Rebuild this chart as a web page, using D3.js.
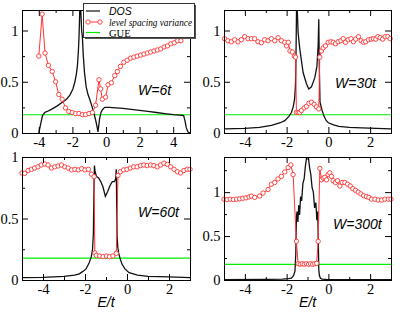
<!DOCTYPE html>
<html>
<head>
<meta charset="utf-8">
<script src="https://cdn.jsdelivr.net/npm/d3@7"></script>
<style>
body{margin:0;background:#fff;}
svg{display:block;}
</style>
</head>
<body>
<div id="chart"></div>
<script>
// --- data ---
var gue = 0.178;
var legendLabels = ["DOS", "level spacing variance", "GUE"];
var panelLabels = ["W=6t", "W=30t", "W=60t", "W=300t"];
var xTicksWide = [-4, -2, 0, 2, 4];
var xMinorWide = [-3, -1, 1, 3];
var xTicks = [-4, -2, 0, 2];
var xMinor = [-3, -1, 1];
var yTicks = [0, 0.5, 1];
var yMinor = [0.25, 0.75];
var yMinorTall = [0.25, 0.75, 1.25];

// W = 6t
var dos6X = [-4.0, -3.9, -3.78, -3.65, -3.5, -3.2, -2.9, -2.6, -2.35, -2.15, -1.97, -1.85, -1.76, -1.7, -1.65, -1.61, -1.58, -1.55, -1.52, -1.49, -1.45, -1.41, -1.35, -1.28, -1.18, -1.08, -0.95, -0.8, -0.68, -0.58, -0.52, -0.48, -0.44, -0.38, -0.3, -0.2, -0.08, 0.2, 0.6, 1.0, 1.5, 2.0, 2.5, 3.0, 3.5, 4.0, 4.4, 4.62, 4.7, 4.78, 4.88, 5.0];
var dos6Y = [0.0, 0.08, 0.17, 0.2, 0.21, 0.235, 0.265, 0.3, 0.33, 0.37, 0.43, 0.5, 0.58, 0.66, 0.78, 0.92, 1.08, 1.3, 1.3, 1.15, 1.0, 0.95, 0.75, 0.59, 0.45, 0.38, 0.32, 0.24, 0.17, 0.1, 0.05, 0.01, 0.06, 0.14, 0.2, 0.23, 0.25, 0.25, 0.245, 0.24, 0.23, 0.22, 0.21, 0.2, 0.19, 0.18, 0.175, 0.17, 0.12, 0.05, 0.01, 0.0];
var lsv6X = [-4.0, -3.8, -3.63, -3.43, -3.2, -3.0, -2.81, -2.61, -2.41, -2.21, -2.01, -1.81, -1.61, -1.41, -1.21, -1.01, -0.81, -0.62, -0.42, -0.32, -0.22, -0.02, 0.12, 0.32, 0.52, 0.68, 0.86, 1.06, 1.26, 1.46, 1.66, 1.86, 2.06, 2.26, 2.46, 2.66, 2.86, 3.06, 3.26, 3.46, 3.66, 3.86, 4.06, 4.26, 4.46];
var lsv6Y = [0.75, 1.16, 0.78, 0.66, 0.6, 0.5, 0.376, 0.33, 0.245, 0.21, 0.2, 0.19, 0.19, 0.18, 0.18, 0.19, 0.2, 0.27, 0.52, 0.43, 0.33, 0.35, 0.47, 0.49, 0.56, 0.6, 0.65, 0.69, 0.71, 0.73, 0.74, 0.75, 0.76, 0.77, 0.78, 0.79, 0.8, 0.81, 0.82, 0.84, 0.85, 0.87, 0.88, 0.9, 0.9];

// W = 30t
var dos30X = [-5.0, -4.0, -3.3, -2.73, -2.3, -2.09, -1.9, -1.77, -1.68, -1.62, -1.58, -1.56, -1.54, -1.52, -1.5, -1.45, -1.37, -1.21, -1.05, -0.94, -0.81, -0.65, -0.55, -0.49, -0.46, -0.43, -0.4, -0.3, -0.2, -0.1, 0.0, 0.25, 0.5, 1.0, 1.6, 2.3, 3.0];
var dos30Y = [0.04, 0.045, 0.055, 0.075, 0.1, 0.12, 0.16, 0.2, 0.26, 0.33, 0.45, 0.62, 0.95, 1.3, 1.25, 0.98, 0.82, 0.59, 0.48, 0.43, 0.45, 0.54, 0.65, 0.85, 1.11, 0.6, 0.3, 0.22, 0.16, 0.12, 0.1, 0.08, 0.065, 0.055, 0.05, 0.045, 0.04];
var lsv30X = [-4.97, -4.81, -4.65, -4.49, -4.33, -4.17, -4.01, -3.85, -3.69, -3.53, -3.37, -3.21, -3.05, -2.89, -2.73, -2.57, -2.41, -2.25, -2.09, -2.0, -1.92, -1.84, -1.73, -1.63, -1.57, -1.53, -1.45, -1.38, -1.29, -1.16, -1.05, -0.94, -0.81, -0.68, -0.57, -0.46, -0.41, -0.33, -0.25, -0.14, -0.01, 0.12, 0.23, 0.34, 0.47, 0.6, 0.71, 0.82, 0.95, 1.08, 1.2, 1.31, 1.44, 1.57, 1.68, 1.79, 1.92, 2.05, 2.16, 2.27, 2.37, 2.48, 2.6, 2.72, 2.85, 2.96];
var lsv30Y = [0.92, 0.9, 0.89, 0.91, 0.89, 0.91, 0.94, 0.92, 0.92, 0.92, 0.89, 0.88, 0.91, 0.9, 0.92, 0.9, 0.93, 0.9, 0.885, 0.85, 0.885, 0.8, 0.79, 0.75, 0.74, 0.2, 0.2, 0.2, 0.22, 0.245, 0.26, 0.29, 0.3, 0.28, 0.255, 0.235, 0.74, 0.8, 0.83, 0.85, 0.885, 0.89, 0.885, 0.87, 0.89, 0.9, 0.92, 0.885, 0.91, 0.92, 0.89, 0.916, 0.94, 0.9, 0.885, 0.89, 0.91, 0.916, 0.92, 0.916, 0.94, 0.93, 0.916, 0.94, 0.94, 0.92];

// W = 60t
var dos60X = [-5.0, -4.0, -3.0, -2.5, -2.27, -2.1, -1.95, -1.8, -1.7, -1.64, -1.6, -1.57, -1.55, -1.52, -1.45, -1.35, -1.25, -1.15, -1.03, -0.92, -0.8, -0.7, -0.6, -0.54, -0.51, -0.49, -0.47, -0.44, -0.4, -0.32, -0.24, -0.1, 0.1, 0.5, 1.0, 2.0, 3.0];
var dos60Y = [0.02, 0.022, 0.03, 0.04, 0.05, 0.07, 0.09, 0.14, 0.19, 0.25, 0.38, 0.78, 0.93, 0.88, 0.84, 0.83, 0.8, 0.76, 0.68, 0.72, 0.77, 0.8, 0.8, 0.82, 0.9, 0.6, 0.35, 0.27, 0.22, 0.17, 0.13, 0.09, 0.06, 0.04, 0.03, 0.025, 0.02];
var lsv60X = [-5.0, -4.87, -4.71, -4.55, -4.4, -4.24, -4.08, -3.92, -3.76, -3.6, -3.44, -3.28, -3.12, -2.96, -2.8, -2.64, -2.48, -2.32, -2.16, -2.0, -1.84, -1.69, -1.57, -1.53, -1.46, -1.3, -1.14, -0.98, -0.83, -0.67, -0.51, -0.43, -0.32, -0.16, 0.0, 0.16, 0.32, 0.48, 0.64, 0.8, 0.96, 1.12, 1.28, 1.44, 1.6, 1.76, 1.92, 2.08, 2.24, 2.4, 2.55, 2.71, 2.87, 3.0];
var lsv60Y = [0.87, 0.867, 0.89, 0.9, 0.91, 0.92, 0.935, 0.943, 0.935, 0.91, 0.92, 0.927, 0.935, 0.92, 0.91, 0.895, 0.9, 0.895, 0.905, 0.895, 0.9, 0.86, 0.84, 0.22, 0.2, 0.195, 0.19, 0.195, 0.19, 0.195, 0.217, 0.85, 0.88, 0.895, 0.9, 0.91, 0.92, 0.92, 0.93, 0.935, 0.93, 0.935, 0.93, 0.92, 0.935, 0.95, 0.94, 0.92, 0.9, 0.88, 0.87, 0.89, 0.9, 0.9];

// W = 300t
var dos300X = [-5.0, -3.0, -2.2, -1.9, -1.77, -1.67, -1.6, -1.56, -1.53, -1.5, -1.46, -1.42, -1.38, -1.33, -1.28, -1.22, -1.16, -1.1, -1.05, -1.0, -0.95, -0.9, -0.84, -0.78, -0.72, -0.66, -0.6, -0.55, -0.51, -0.48, -0.46, -0.43, -0.38, -0.3, -0.1, 0.5, 3.0];
var dos300Y = [0.005, 0.007, 0.01, 0.015, 0.02, 0.05, 0.1, 0.3, 0.72, 0.78, 0.66, 0.85, 0.74, 0.95, 0.9, 1.1, 1.15, 1.3, 1.38, 1.45, 1.38, 1.28, 1.2, 1.05, 1.0, 0.82, 0.88, 0.68, 0.78, 0.4, 0.12, 0.05, 0.02, 0.01, 0.006, 0.005, 0.005];
var lsv300X = [-5.0, -4.85, -4.7, -4.55, -4.4, -4.25, -4.1, -3.95, -3.8, -3.69, -3.53, -3.29, -3.13, -2.89, -2.73, -2.57, -2.41, -2.25, -2.09, -1.93, -1.8, -1.69, -1.53, -1.45, -1.35, -1.25, -1.15, -1.05, -0.95, -0.85, -0.75, -0.65, -0.56, -0.49, -0.41, -0.33, -0.25, -0.17, -0.09, -0.01, 0.07, 0.15, 0.23, 0.34, 0.44, 0.55, 0.66, 0.79, 0.92, 1.05, 1.17, 1.3, 1.43, 1.56, 1.69, 1.82, 1.94, 2.07, 2.23, 2.39, 2.55, 2.71, 2.87, 3.0];
var lsv300Y = [0.92, 0.915, 0.92, 0.915, 0.92, 0.925, 0.93, 0.935, 0.945, 0.955, 0.94, 0.955, 0.99, 1.03, 1.09, 1.11, 1.15, 1.18, 1.23, 1.28, 1.31, 1.2, 0.44, 0.185, 0.18, 0.185, 0.18, 0.185, 0.18, 0.185, 0.18, 0.185, 0.19, 0.44, 1.27, 1.14, 1.16, 1.17, 1.14, 1.2, 1.22, 1.18, 1.13, 1.11, 1.13, 1.07, 1.11, 1.11, 1.09, 1.07, 1.04, 1.02, 1.0, 0.98, 0.96, 0.95, 0.94, 0.92, 0.92, 0.91, 0.91, 0.92, 0.92, 0.92];

var panels = [
    {dosX: dos6X, dosY: dos6Y, lsvX: lsv6X, lsvY: lsv6Y, label: panelLabels[0],
     left: 22, right: 190, top: 10, bottom: 133, xDom: [-5, 5], yMax: 1.2,
     xMajor: xTicksWide, xMin: xMinorWide, yMin: yMinor, lx: 138, ly: 95, title: false},
    {dosX: dos30X, dosY: dos30Y, lsvX: lsv30X, lsvY: lsv30Y, label: panelLabels[1],
     left: 224, right: 391, top: 10, bottom: 133, xDom: [-5, 3], yMax: 1.2,
     xMajor: xTicks, xMin: xMinor, yMin: yMinor, lx: 335, ly: 87.5, title: false},
    {dosX: dos60X, dosY: dos60Y, lsvX: lsv60X, lsvY: lsv60Y, label: panelLabels[2],
     left: 22, right: 190, top: 157, bottom: 280, xDom: [-5, 3], yMax: 1.0,
     xMajor: xTicks, xMin: xMinor, yMin: yMinor, lx: 138, ly: 216.5, title: true},
    {dosX: dos300X, dosY: dos300Y, lsvX: lsv300X, lsvY: lsv300Y, label: panelLabels[3],
     left: 224, right: 391, top: 157, bottom: 280, xDom: [-5, 3], yMax: 1.4,
     xMajor: xTicks, xMin: xMinor, yMin: yMinorTall, lx: 333, ly: 229, title: true}
];

var RED = "#ff3333", GREEN = "#00ee00";
var serif = "'Liberation Serif','Times New Roman',serif";
var sans = "'Liberation Sans',Arial,sans-serif";

var svg = d3.select("#chart").append("svg")
    .attr("width", 415)
    .attr("height", 323);

function fmt(d){ return String(d); }

panels.forEach(function(p, i){
    var x = d3.scaleLinear().domain(p.xDom).range([p.left, p.right]);
    var y = d3.scaleLinear().domain([0, p.yMax]).range([p.bottom, p.top]);
    var g = svg.append("g");

    g.append("clipPath").attr("id", "clip" + i).append("rect")
        .attr("x", p.left).attr("y", p.top)
        .attr("width", p.right - p.left).attr("height", p.bottom - p.top);
    var plot = g.append("g").attr("clip-path", "url(#clip" + i + ")");

    // GUE level
    plot.append("line")
        .attr("x1", x(p.xDom[0])).attr("x2", x(p.xDom[1]))
        .attr("y1", y(gue)).attr("y2", y(gue))
        .attr("stroke", GREEN).attr("stroke-width", 1.2);

    var line = d3.line().x(function(d){ return x(d[0]); }).y(function(d){ return y(d[1]); });

    plot.append("path")
        .datum(d3.zip(p.dosX, p.dosY))
        .attr("d", line)
        .attr("fill", "none")
        .attr("stroke", "#111")
        .attr("stroke-width", 1.3);

    g.append("path")
        .datum(d3.zip(p.lsvX, p.lsvY))
        .attr("d", line)
        .attr("fill", "none")
        .attr("stroke", RED)
        .attr("stroke-width", 1);

    g.selectAll("circle.m")
        .data(d3.zip(p.lsvX, p.lsvY))
        .enter()
        .append("circle")
        .attr("class", "m")
        .attr("cx", function(d){ return x(d[0]); })
        .attr("cy", function(d){ return y(d[1]); })
        .attr("r", 2.2)
        .attr("fill", "#fff")
        .attr("stroke", RED)
        .attr("stroke-width", 0.9);

    // frame
    g.append("rect")
        .attr("x", p.left + 0.5).attr("y", p.top + 0.5)
        .attr("width", p.right - p.left).attr("height", p.bottom - p.top)
        .attr("fill", "none").attr("stroke", "#000").attr("stroke-width", 1);

    // ticks on all four sides, pointing in
    function axis(a, vals, size, labels){
        return a.tickValues(vals).tickSize(size).tickSizeOuter(0)
            .tickFormat(labels ? fmt : "");
    }
    function clean(s){
        s.select(".domain").remove();
        s.attr("font-family", serif).attr("font-size", 14.5);
        s.selectAll("text").attr("fill", "#000");
    }
    g.append("g").attr("transform", "translate(0," + p.bottom + ")")
        .call(axis(d3.axisBottom(x), p.xMajor, -6, true).tickPadding(3.5)).call(clean);
    g.append("g").attr("transform", "translate(0," + p.bottom + ")")
        .call(axis(d3.axisBottom(x), p.xMin, -3, false)).call(clean);
    g.append("g").attr("transform", "translate(0," + p.top + ")")
        .call(axis(d3.axisTop(x), p.xMajor, -6, false)).call(clean);
    g.append("g").attr("transform", "translate(0," + p.top + ")")
        .call(axis(d3.axisTop(x), p.xMin, -3, false)).call(clean);
    g.append("g").attr("transform", "translate(" + p.left + ",0)")
        .call(axis(d3.axisLeft(y), yTicks, -6, true).tickPadding(3.5)).call(clean);
    g.append("g").attr("transform", "translate(" + p.left + ",0)")
        .call(axis(d3.axisLeft(y), p.yMin, -3, false)).call(clean);
    g.append("g").attr("transform", "translate(" + p.right + ",0)")
        .call(axis(d3.axisRight(y), yTicks, -6, false)).call(clean);
    g.append("g").attr("transform", "translate(" + p.right + ",0)")
        .call(axis(d3.axisRight(y), p.yMin, -3, false)).call(clean);

    g.append("text")
        .attr("x", p.lx).attr("y", p.ly)
        .attr("font-family", sans).attr("font-style", "italic").attr("font-size", 14)
        .text(p.label);

    if (p.title) {
        g.append("text")
            .attr("x", (p.left + p.right) / 2).attr("y", 306.5)
            .attr("text-anchor", "middle")
            .attr("font-family", sans).attr("font-style", "italic").attr("font-size", 14)
            .text("E/t");
    }
});

// legend of the first panel
var lg = svg.append("g");
lg.append("rect").attr("x", 85).attr("y", 5).attr("width", 111).attr("height", 34).attr("fill", "#555");
lg.append("rect").attr("x", 83.5).attr("y", 3.5).attr("width", 111).attr("height", 34)
    .attr("fill", "#fff").attr("stroke", "#333").attr("stroke-width", 1);
lg.append("line").attr("x1", 86).attr("x2", 100).attr("y1", 11).attr("y2", 11)
    .attr("stroke", "#111").attr("stroke-width", 1.2);
lg.append("line").attr("x1", 88).attr("x2", 100).attr("y1", 22).attr("y2", 22)
    .attr("stroke", RED).attr("stroke-width", 1);
[88, 100].forEach(function(cx){
    lg.append("circle").attr("cx", cx).attr("cy", 22).attr("r", 2.2)
        .attr("fill", "#fff").attr("stroke", RED).attr("stroke-width", 0.9);
});
lg.append("line").attr("x1", 86).attr("x2", 100).attr("y1", 32.5).attr("y2", 32.5)
    .attr("stroke", GREEN).attr("stroke-width", 1.2);
lg.append("text").attr("x", 109).attr("y", 15)
    .attr("font-family", sans).attr("font-style", "italic").attr("font-size", 10.5)
    .text(legendLabels[0]);
lg.append("text").attr("x", 109).attr("y", 25.5)
    .attr("font-family", serif).attr("font-style", "italic").attr("font-size", 10.5)
    .attr("textLength", 83).attr("lengthAdjust", "spacingAndGlyphs")
    .text(legendLabels[1]);
lg.append("text").attr("x", 109).attr("y", 36.5)
    .attr("font-family", serif).attr("font-size", 10.5)
    .text(legendLabels[2]);
</script>
</body>
</html>
